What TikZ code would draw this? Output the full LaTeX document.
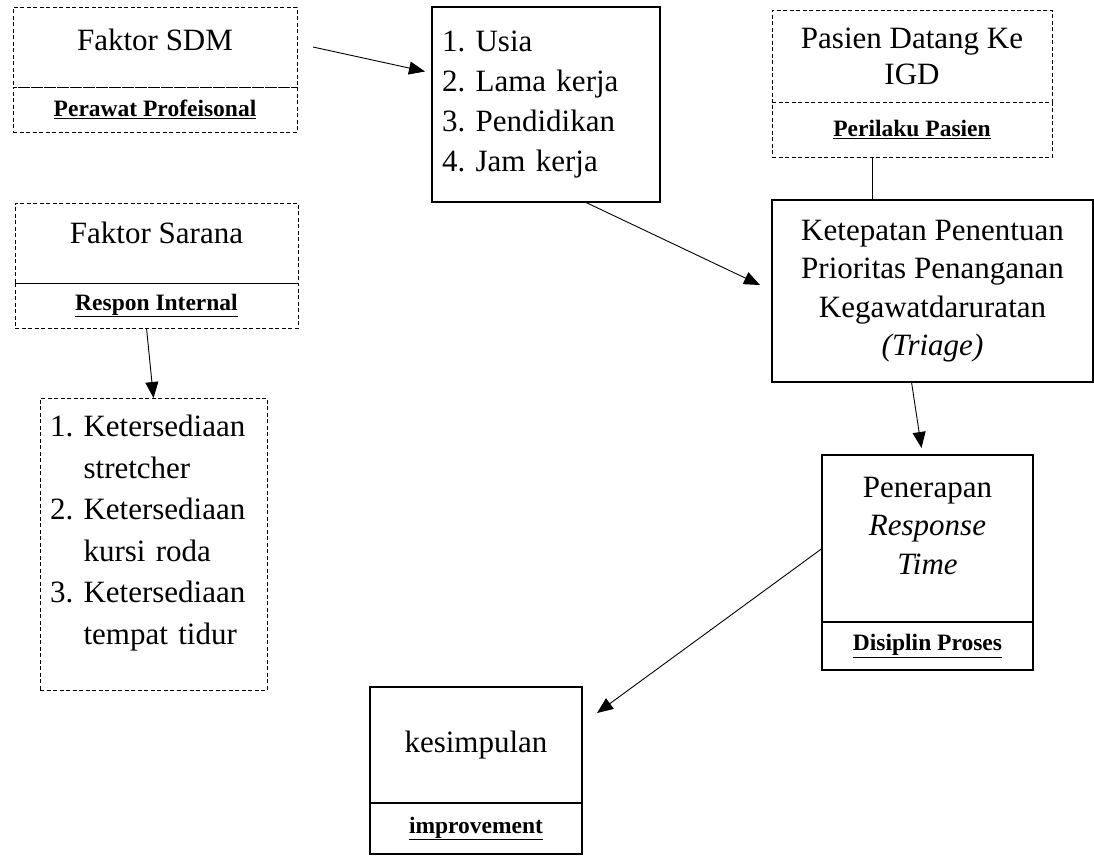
\documentclass[tikz,border=0pt]{standalone}
\usepackage{fontspec}
\setmainfont{Liberation Serif}
\usetikzlibrary{positioning,arrows.meta}

\begin{document}
\begin{tikzpicture}[x=1pt,y=-1pt,
  box/.style={draw, inner sep=0pt, outer sep=0pt, align=center, font=\fontsize{31}{38.5}\selectfont},
  dashbox/.style={box, dash pattern=on 4pt off 2.5pt, line width=0.8pt},
  solidbox/.style={box, line width=1.6pt},
  tag/.style={font=\fontsize{23.5}{28}\selectfont\bfseries},
  arr/.style={-{Triangle[length=16pt,width=13pt]}, line width=0.9pt}]
\useasboundingbox (0,0) rectangle (1094,855);

% Faktor SDM
\node[dashbox, anchor=north west, minimum width=284pt, minimum height=80pt, text depth=14pt] (sdm) at (13,7) {Faktor SDM};
\node[dashbox, tag, below=0pt of sdm, minimum width=284pt, minimum height=45pt] (perawat) {\underline{Perawat Profeisonal}};

% Faktor Sarana
\node[dashbox, anchor=north west, minimum width=283pt, minimum height=80pt, text depth=20pt] (sarana) at (15,203) {Faktor Sarana};
\node[dashbox, tag, below=0pt of sarana, minimum width=283pt, minimum height=45pt] (respon) {\underline{Respon Internal}};
\node[dashbox, anchor=north west, minimum width=227pt, minimum height=292pt, text width=207pt, align=left, text depth=236pt, font=\fontsize{31}{41.5}\selectfont] (kelist) at (40,398)
  {1.~Ketersediaan\\\phantom{1.~}stretcher\\2.~Ketersediaan\\\phantom{2.~}kursi roda\\3.~Ketersediaan\\\phantom{3.~}tempat tidur};

% Usia dll
\node[solidbox, anchor=north west, minimum width=228pt, minimum height=195pt, text width=208pt, align=left, font=\fontsize{31}{40}\selectfont] (usia) at (432,7)
  {1.~Usia\\2.~Lama kerja\\3.~Pendidikan\\4.~Jam kerja};

% Pasien
\node[dashbox, anchor=north west, minimum width=280pt, minimum height=92pt, font=\fontsize{31}{36}\selectfont] (pasien) at (772,10) {Pasien Datang Ke\\IGD};
\node[dashbox, tag, below=0pt of pasien, minimum width=280pt, minimum height=55pt] (perilaku) {\underline{Perilaku Pasien}};

% Triage
\node[solidbox, anchor=north west, minimum width=321pt, minimum height=182pt] (ketepatan) at (772,200)
  {Ketepatan Penentuan\\Prioritas Penanganan\\Kegawatdaruratan\\\textit{(Triage)}};

% Response time
\node[solidbox, anchor=north west, minimum width=211pt, minimum height=167pt, text depth=26pt] (penerapan) at (822,455)
  {Penerapan\\\textit{Response}\\\textit{Time}};
\node[solidbox, tag, below=0pt of penerapan, minimum width=211pt, minimum height=48pt] (disiplin) {\underline{Disiplin Proses}};

% Kesimpulan
\node[solidbox, anchor=north west, minimum width=212pt, minimum height=116pt] (kesimpulan) at (370,687) {kesimpulan};
\node[solidbox, tag, below=0pt of kesimpulan, minimum width=212pt, minimum height=51pt] (improvement) {\underline{improvement}};

% Connectors
\draw[arr] ([xshift=16pt]sdm.east) -- ([xshift=-7pt,yshift=33pt]usia.west);
\draw[arr] ([xshift=39pt]usia.south) -- ([xshift=-12pt,yshift=6pt]ketepatan.west);
\draw[line width=0.9pt] ([xshift=-40pt]perilaku.south) -- ([xshift=-40pt]perilaku.south |- ketepatan.north);
\draw[arr] ([xshift=-21pt]ketepatan.south) -- ([xshift=-6pt,yshift=7pt]penerapan.north);
\draw[arr] ([xshift=-10pt]respon.south) -- (kelist.north);
\draw[arr] ([yshift=-10pt]penerapan.west) -- ([xshift=15pt,yshift=32pt]kesimpulan.east);
\end{tikzpicture}
\end{document}
